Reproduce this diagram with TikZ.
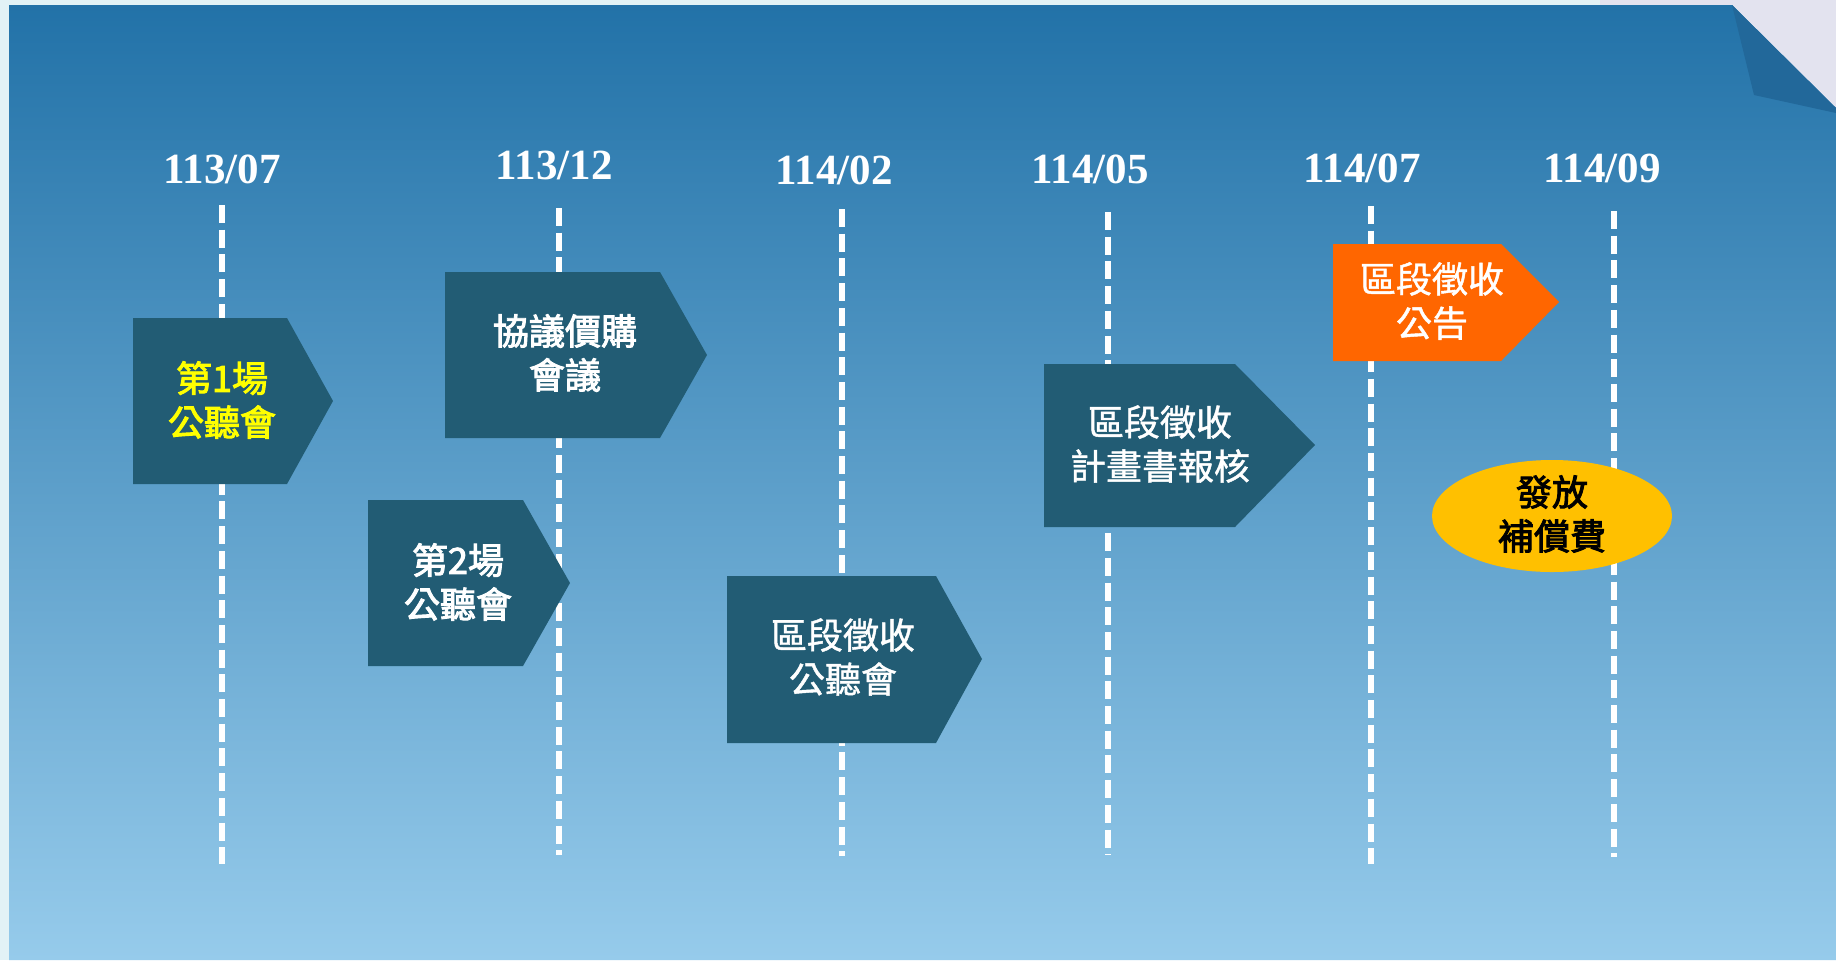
\documentclass[tikz,border=0pt]{standalone}
\usepackage{fontspec}
\setmainfont{Liberation Serif}
\newfontfamily\cjkm{Noto Sans CJK TC}[FakeBold=1.2]
\newfontfamily\cjkb{Noto Sans CJK TC}[FakeBold=2.6]
\definecolor{outerc}{HTML}{E2F2F6}
\definecolor{lav}{HTML}{E3E3EF}
\definecolor{bgtop}{HTML}{2272A8}
\definecolor{bgmid}{HTML}{52A6DB}
\definecolor{bgbot}{HTML}{96CBEB}
\definecolor{foldc}{HTML}{22689A}
\definecolor{boxc}{HTML}{225C74}
\definecolor{orangec}{HTML}{FF6600}
\definecolor{goldc}{HTML}{FFC000}
\definecolor{yel}{HTML}{FFFF00}
\tikzset{
  datelbl/.style={text=white, font=\bfseries\fontsize{21.5}{24}\selectfont, inner sep=0pt},
  tline/.style={draw=white, line width=3.25pt, dash pattern=on 9pt off 3.35pt},
  darkbox/.style={fill=boxc},
  orangebox/.style={fill=orangec},
  boxtxt/.style={text=white, align=center, inner sep=0pt, font=\cjkm\fontsize{18}{22}\selectfont},
  boldtxt/.style={text=white, align=center, inner sep=0pt, font=\cjkb\fontsize{18}{22}\selectfont},
}
\begin{document}
\begin{tikzpicture}[x=0.5pt,y=-0.5pt]
\useasboundingbox (0,0) rectangle (1836,960);
% page background
\fill[outerc] (0,0) rectangle (1836,960);
\fill[lav] (1600,0) rectangle (1836,130);
% main panel
\shade[top color=bgtop, middle color=bgmid, bottom color=bgbot]
  (9,5) -- (1732,5) -- (1836,108) -- (1836,960) -- (9,960) -- cycle;
% folded corner
\fill[foldc] (1732,5) -- (1754,95) -- (1836,113) -- (1836,108) -- cycle;

% dates
\node[datelbl] (d1) at (222,169) {113/07};
\node[datelbl] (d2) at (554,165) {113/12};
\node[datelbl] (d3) at (834,170) {114/02};
\node[datelbl] (d4) at (1090,169) {114/05};
\node[datelbl] (d5) at (1362,168) {114/07};
\node[datelbl] (d6) at (1602,168) {114/09};

% timeline dashed lines
\coordinate (t1) at (222,205); \coordinate (e1) at (222,864);
\coordinate (t2) at (559,208); \coordinate (e2) at (559,855);
\coordinate (t3) at (842,209); \coordinate (e3) at (842,856);
\coordinate (t4) at (1108,212); \coordinate (e4) at (1108,855);
\coordinate (t5) at (1371,206); \coordinate (e5) at (1371,864);
\coordinate (t6) at (1614,211); \coordinate (e6) at (1614,857);
\foreach \i in {1,...,6} { \draw[tline] (t\i) -- (e\i); }

% event boxes
\fill[darkbox] (133,318) -- (287,318) -- (333,401) -- (287,484) -- (133,484) -- cycle;
\node[boldtxt, text=yel] (b1) at (222,400) {第1場\\公聽會};

\fill[darkbox] (445,272) -- (660,272) -- (707,355) -- (660,438) -- (445,438) -- cycle;
\node[boldtxt] (b2) at (565,353) {協議價購\\會議};

\fill[darkbox] (368,500) -- (523,500) -- (570,583) -- (523,666) -- (368,666) -- cycle;
\node[boldtxt] (b3) at (458,582) {第2場\\公聽會};

\fill[darkbox] (727,576) -- (936,576) -- (982,659) -- (936,743) -- (727,743) -- cycle;
\node[boxtxt] (b4) at (843,657) {區段徵收\\公聽會};

\fill[darkbox] (1044,364) -- (1235,364) -- (1315,445) -- (1235,527) -- (1044,527) -- cycle;
\node[boxtxt] (b5) at (1160,444) {區段徵收\\計畫書報核};

\fill[orangebox] (1333,244) -- (1501,244) -- (1559,302) -- (1501,361) -- (1333,361) -- cycle;
\node[boxtxt] (b6) at (1432,301) {區段徵收\\公告};

\fill[goldc] (1552,516) ellipse [x radius=120, y radius=56];
\node[boldtxt, text=black] (b7) at (1552,514) {發放\\補償費};
\end{tikzpicture}
\end{document}
